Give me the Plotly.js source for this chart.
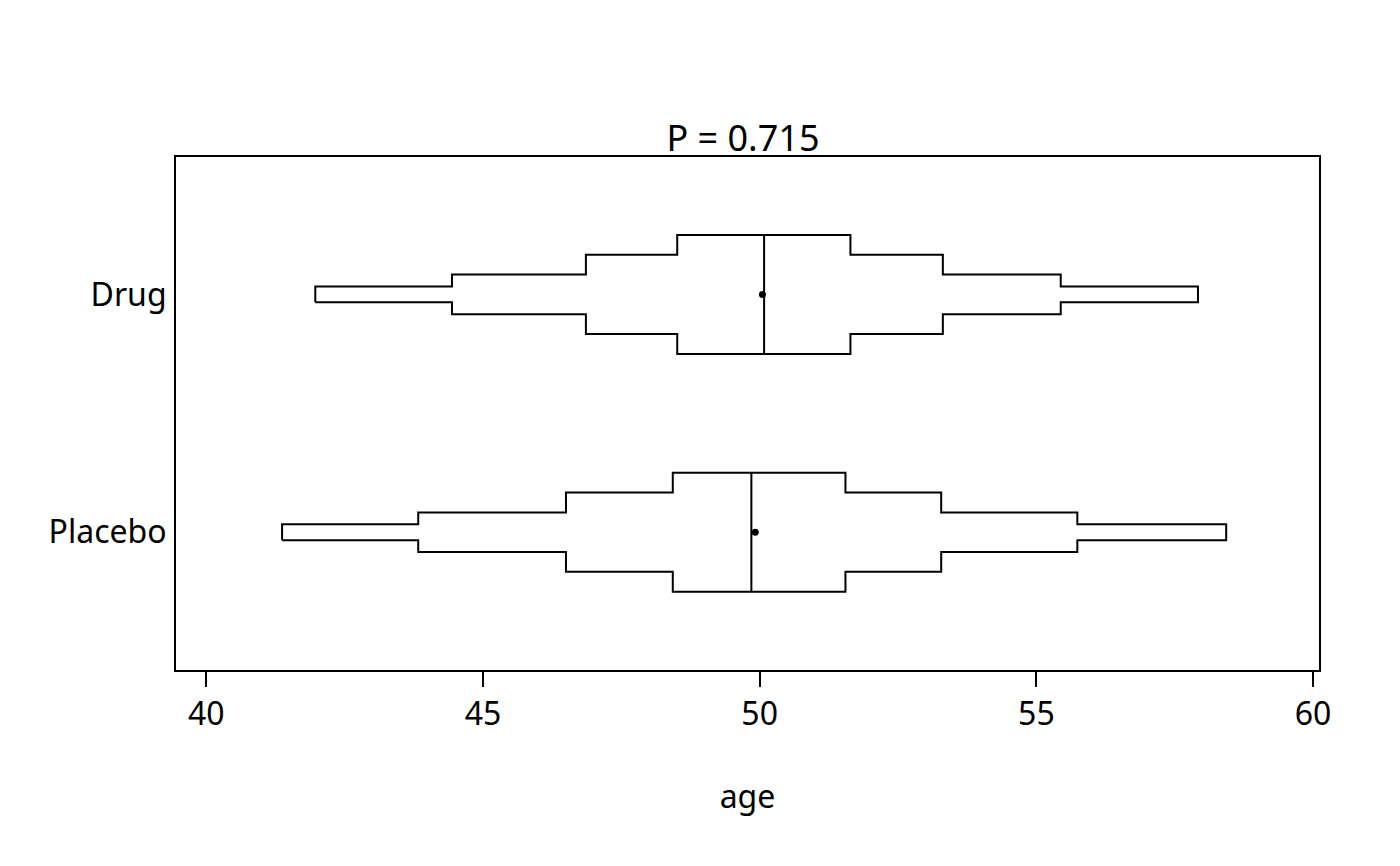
<!DOCTYPE html>
<html>
<head>
<meta charset="utf-8">
<script src="https://cdn.plot.ly/plotly-3.0.1.min.js"></script>
<style>html,body{margin:0;padding:0;background:#fff;}#chart{width:1400px;height:866px;}</style>
</head>
<body>
<div id="chart"></div>
<script>
// Data
const categories = ["Placebo", "Drug"];
const lowerProbs = [0.05, 0.125, 0.25, 0.375];
const drugQuantiles = [41.97, 44.44, 46.86, 48.51, 50.08, 51.64, 53.31, 55.44, 57.92];
const placeboQuantiles = [41.37, 43.83, 46.50, 48.43, 49.85, 51.55, 53.28, 55.74, 58.43];
const groupMeans = [49.92, 50.05]; // Placebo, Drug
const xTicks = [40, 45, 50, 55, 60];
const titleText = "P = 0.715";
const xLabel = "age";

const quantilesByGroup = [placeboQuantiles, drugQuantiles];
const traces = [];
const hs = lowerProbs.map(p => p * 2 / 3);

quantilesByGroup.forEach((q, gi) => {
  const c = gi + 1;
  const lo = q.slice(0, 4);            // 5%,12.5%,25%,37.5%
  const hi = q.slice(5).reverse();     // 95%,87.5%,75%,62.5%

  // upper outline, left to right
  const ux = [], uy = [];
  ux.push(lo[0]); uy.push(c - hs[0]);
  for (let i = 0; i < 4; i++) {
    ux.push(lo[i]); uy.push(c + hs[i]);
    if (i < 3) { ux.push(lo[i + 1]); uy.push(c + hs[i]); }
  }
  for (let i = 3; i >= 0; i--) {
    ux.push(hi[i]); uy.push(c + hs[i]);
    if (i > 0) { ux.push(hi[i]); uy.push(c + hs[i - 1]); }
  }
  ux.push(hi[0]); uy.push(c - hs[0]);

  // lower outline, right to left
  const lx = [], ly = [];
  for (let i = 0; i < 4; i++) {
    lx.push(hi[i]); ly.push(c - hs[i]);
    if (i < 3) { lx.push(hi[i + 1]); ly.push(c - hs[i]); }
  }
  for (let i = 3; i >= 0; i--) {
    lx.push(lo[i]); ly.push(c - hs[i]);
    if (i > 0) { lx.push(lo[i]); ly.push(c - hs[i - 1]); }
  }
  lx.push(lo[0]); ly.push(c - hs[0]);

  traces.push({
    type: "scatter", mode: "lines",
    x: ux.concat(lx), y: uy.concat(ly),
    line: { color: "#000", width: 2 },
    hoverinfo: "skip", showlegend: false
  });
  // median line
  traces.push({
    type: "scatter", mode: "lines",
    x: [q[4], q[4]], y: [c - hs[3], c + hs[3]],
    line: { color: "#000", width: 2 },
    hoverinfo: "skip", showlegend: false
  });
  // mean dot
  traces.push({
    type: "scatter", mode: "markers",
    x: [groupMeans[gi]], y: [c],
    marker: { color: "#000", size: 7 },
    hoverinfo: "skip", showlegend: false
  });
});

const layout = {
  width: 1400, height: 866,
  paper_bgcolor: "#fff", plot_bgcolor: "#fff",
  font: { family: "Noto Sans, Open Sans, sans-serif", size: 32, color: "#000" },
  margin: { l: 176, r: 81, t: 157, b: 196 },
  title: { text: titleText, font: { size: 36, color: "#000" },
           x: 743 / 1400, xref: "container", xanchor: "center",
           y: 1 - 138 / 866, yref: "container", yanchor: "middle" },
  xaxis: {
    range: [39.453, 60.107], tickvals: xTicks, ticktext: xTicks.map(String),
    showgrid: false, zeroline: false,
    showline: true, mirror: true, linecolor: "#000", linewidth: 2,
    ticks: "outside", ticklen: 15, tickwidth: 2, tickcolor: "#000",
    tickfont: { size: 32 },
    title: { text: xLabel, font: { size: 32 }, standoff: 52 }
  },
  yaxis: {
    range: [0.4205, 2.578], tickvals: [1, 2], ticktext: categories,
    showgrid: false, zeroline: false,
    showline: true, mirror: true, linecolor: "#000", linewidth: 2,
    ticks: "", tickfont: { size: 32 }, ticklabelstandoff: 1
  }
};

Plotly.newPlot("chart", traces, layout, { displayModeBar: false, staticPlot: true });
</script>
</body>
</html>
